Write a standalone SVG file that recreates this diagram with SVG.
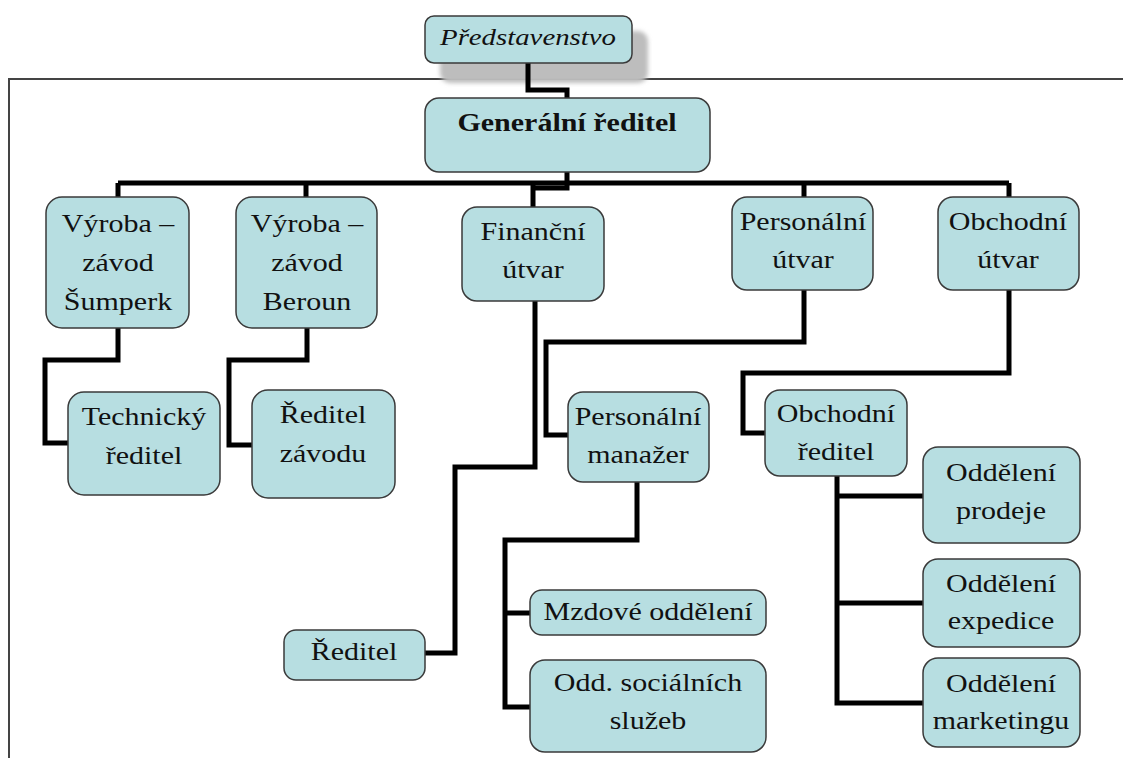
<svg xmlns="http://www.w3.org/2000/svg" width="1123" height="758" viewBox="0 0 1123 758">
  <style>
    .box { fill: #b7dee1; stroke: #3a3a3a; stroke-width: 1.5; }
    .lbl { font-family: "Liberation Serif", "Times New Roman", serif; font-size: 25px; fill: #111; text-anchor: middle; }
    .bold { font-weight: bold; }
    .ital { font-style: italic; font-size: 24px; }
    .wire { fill: none; stroke: #000; stroke-width: 5; stroke-linejoin: miter; stroke-linecap: butt; }
    .frame { fill: none; stroke: #444; stroke-width: 2; }
  </style>
  <defs>
    <filter id="soft" x="-10%" y="-20%" width="120%" height="140%">
      <feGaussianBlur stdDeviation="2"/>
    </filter>
  </defs>

  <rect width="1123" height="758" fill="#fff"/>

  <!-- page frame -->
  <path class="frame" d="M1123 79 H9 V758"/>

  <!-- board box shadow -->
  <rect x="440" y="31" width="208" height="52" rx="10" fill="#bdbdbd" filter="url(#soft)"/>

  <g id="connectors">
    <path class="wire" d="M528 63 V90 H567 V98"/>
    <path class="wire" d="M567 172 V188 H533"/>
    <path class="wire" d="M118 183 H1009"/>
    <path class="wire" d="M118 183 V197 M306 183 V197 M533 183 V207 M804 183 V197 M1009 183 V197"/>
    <path class="wire" d="M118 328 V360 H45 V443 H68"/>
    <path class="wire" d="M307 328 V360 H229 V445 H252"/>
    <path class="wire" d="M535 301 V467 H455 V653 H425"/>
    <path class="wire" d="M804 290 V342 H546 V435 H568"/>
    <path class="wire" d="M1009 290 V373 H743 V433 H765"/>
    <path class="wire" d="M637 482 V540 H505 V707 H530 M505 613 H530"/>
    <path class="wire" d="M837 476 V703 H923 M837 496 H923 M837 603 H923"/>
  </g>

  <g id="predstavenstvo">
    <rect class="box" x="425" y="16" width="207" height="47" rx="9"/>
    <text class="lbl ital" transform="translate(528 0) scale(1.2 1)"><tspan x="0" y="45">Představenstvo</tspan></text>
  </g>

  <g id="generalni-reditel">
    <rect class="box" x="425" y="98" width="285" height="74" rx="14"/>
    <text class="lbl bold" transform="translate(567 0) scale(1.2 1)"><tspan x="0" y="131">Generální ředitel</tspan></text>
  </g>

  <g id="vyroba-sumperk">
    <rect class="box" x="46" y="197" width="143" height="131" rx="16"/>
    <text class="lbl" transform="translate(118 0) scale(1.2 1)"><tspan x="0" y="232">Výroba –</tspan><tspan x="0" y="271">závod</tspan><tspan x="0" y="310">Šumperk</tspan></text>
  </g>

  <g id="vyroba-beroun">
    <rect class="box" x="236" y="197" width="141" height="131" rx="16"/>
    <text class="lbl" transform="translate(307 0) scale(1.2 1)"><tspan x="0" y="232">Výroba –</tspan><tspan x="0" y="271">závod</tspan><tspan x="0" y="310">Beroun</tspan></text>
  </g>

  <g id="financni-utvar">
    <rect class="box" x="462" y="207" width="142" height="94" rx="15"/>
    <text class="lbl" transform="translate(533 0) scale(1.2 1)"><tspan x="0" y="240">Finanční</tspan><tspan x="0" y="278">útvar</tspan></text>
  </g>

  <g id="personalni-utvar">
    <rect class="box" x="732" y="197" width="141" height="93" rx="15"/>
    <text class="lbl" transform="translate(803 0) scale(1.2 1)"><tspan x="0" y="230">Personální</tspan><tspan x="0" y="268">útvar</tspan></text>
  </g>

  <g id="obchodni-utvar">
    <rect class="box" x="938" y="197" width="141" height="93" rx="15"/>
    <text class="lbl" transform="translate(1008 0) scale(1.2 1)"><tspan x="0" y="230">Obchodní</tspan><tspan x="0" y="268">útvar</tspan></text>
  </g>

  <g id="technicky-reditel">
    <rect class="box" x="68" y="392" width="152" height="103" rx="16"/>
    <text class="lbl" transform="translate(144 0) scale(1.2 1)"><tspan x="0" y="425">Technický</tspan><tspan x="0" y="464">ředitel</tspan></text>
  </g>

  <g id="reditel-zavodu">
    <rect class="box" x="252" y="390" width="143" height="108" rx="16"/>
    <text class="lbl" transform="translate(323 0) scale(1.2 1)"><tspan x="0" y="423">Ředitel</tspan><tspan x="0" y="462">závodu</tspan></text>
  </g>

  <g id="personalni-manazer">
    <rect class="box" x="568" y="392" width="141" height="90" rx="15"/>
    <text class="lbl" transform="translate(638 0) scale(1.2 1)"><tspan x="0" y="425">Personální</tspan><tspan x="0" y="463">manažer</tspan></text>
  </g>

  <g id="obchodni-reditel">
    <rect class="box" x="765" y="390" width="142" height="86" rx="15"/>
    <text class="lbl" transform="translate(836 0) scale(1.2 1)"><tspan x="0" y="422">Obchodní</tspan><tspan x="0" y="460">ředitel</tspan></text>
  </g>

  <g id="oddeleni-prodeje">
    <rect class="box" x="923" y="447" width="157" height="96" rx="15"/>
    <text class="lbl" transform="translate(1001 0) scale(1.2 1)"><tspan x="0" y="481">Oddělení</tspan><tspan x="0" y="519">prodeje</tspan></text>
  </g>

  <g id="oddeleni-expedice">
    <rect class="box" x="923" y="559" width="157" height="88" rx="15"/>
    <text class="lbl" transform="translate(1001 0) scale(1.2 1)"><tspan x="0" y="592">Oddělení</tspan><tspan x="0" y="629">expedice</tspan></text>
  </g>

  <g id="oddeleni-marketingu">
    <rect class="box" x="923" y="658" width="157" height="89" rx="15"/>
    <text class="lbl" transform="translate(1001 0) scale(1.2 1)"><tspan x="0" y="692">Oddělení</tspan><tspan x="0" y="729">marketingu</tspan></text>
  </g>

  <g id="mzdove-oddeleni">
    <rect class="box" x="530" y="590" width="236" height="45" rx="12"/>
    <text class="lbl" transform="translate(648 0) scale(1.2 1)"><tspan x="0" y="620">Mzdové oddělení</tspan></text>
  </g>

  <g id="odd-socialnich-sluzeb">
    <rect class="box" x="530" y="660" width="236" height="92" rx="15"/>
    <text class="lbl" transform="translate(648 0) scale(1.2 1)"><tspan x="0" y="691">Odd. sociálních</tspan><tspan x="0" y="729">služeb</tspan></text>
  </g>

  <g id="reditel">
    <rect class="box" x="284" y="630" width="141" height="50" rx="12"/>
    <text class="lbl" transform="translate(354 0) scale(1.2 1)"><tspan x="0" y="660">Ředitel</tspan></text>
  </g>
</svg>
